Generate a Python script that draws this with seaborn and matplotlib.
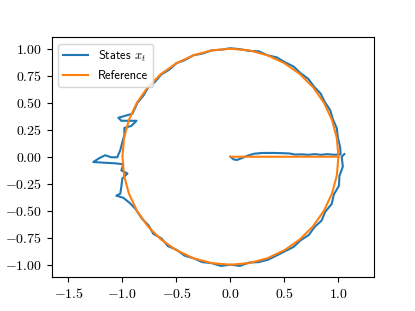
import matplotlib
matplotlib.use("Agg")
import matplotlib.pyplot as plt
from matplotlib.ticker import FuncFormatter
import seaborn as sns
import pandas as pd

# Trajectory of the states
states_x = [0.00, 0.03, 0.06, 0.10, 0.16, 0.22, 0.30, 0.40, 0.48, 0.55, 0.60, 0.66, 0.72, 0.78, 0.84, 0.90, 0.96, 1.02,
            1.016, 0.995, 0.985, 0.949, 0.924, 0.875, 0.835, 0.774, 0.721, 0.649, 0.585, 0.505, 0.429, 0.342, 0.262, 0.173, 0.087, 0.000,
            -0.087, -0.174, -0.256, -0.342, -0.418, -0.500, -0.565, -0.640, -0.696, -0.762, -0.807, -0.862,
            -0.907, -1.038, -1.010, -0.870, -0.917, -0.982, -0.982, -1.001, -1.020, -1.048, -1.104, -1.160, -1.216, -1.270,
            -1.160, -1.067, -0.992, -1.010, -0.954, -1.001, -1.010, -1.020, -1.057, -0.992, -0.935, -0.879,
            -0.819, -0.758, -0.714, -0.637, -0.580, -0.498, -0.427, -0.342, -0.262, -0.174, -0.088, 0.000,
            0.088, 0.173, 0.261, 0.347, 0.427, 0.505, 0.585, 0.649, 0.725, 0.778, 0.844, 0.879, 0.938, 0.958,
            1.005, 1.009, 1.041, 1.030, 1.055]
states_y = [0.000, -0.025, -0.030, -0.015, 0.010, 0.028, 0.035, 0.035, 0.033, 0.030, 0.020, 0.022, 0.018, 0.024, 0.018, 0.024, 0.018, 0.022,
            0.089, 0.175, 0.264, 0.345, 0.431, 0.505, 0.585, 0.649, 0.721, 0.774, 0.835, 0.875, 0.920, 0.940, 0.976, 0.980, 0.996, 1.005,
            0.991, 0.985, 0.956, 0.940, 0.897, 0.866, 0.807, 0.762, 0.696, 0.640, 0.565, 0.498,
            0.398, 0.361, 0.333, 0.333, 0.286, 0.267, 0.201, 0.136, 0.061, -0.005, -0.005, 0.014, -0.014, -0.049,
            -0.056, -0.061, -0.070, -0.127, -0.155, -0.201, -0.276, -0.342, -0.361, -0.380, -0.426, -0.483,
            -0.574, -0.636, -0.714, -0.758, -0.827, -0.862, -0.915, -0.940, -0.976, -0.985, -1.011, -1.000,
            -1.011, -0.980, -0.976, -0.954, -0.915, -0.875, -0.835, -0.774, -0.725, -0.652, -0.591, -0.508, -0.437, -0.349,
            -0.269, -0.178, -0.091, 0.000, 0.025]

# Reference path: from origin to (1, 0), then the unit circle
ref_x = [0.0, 1.0, 0.985, 0.940, 0.866, 0.766, 0.643, 0.500, 0.342, 0.174, 0.0, -0.174, -0.342, -0.500, -0.643, -0.766,
         -0.866, -0.940, -0.985, -1.0, -0.985, -0.940, -0.866, -0.766, -0.643, -0.500, -0.342, -0.174, 0.0,
         0.174, 0.342, 0.500, 0.643, 0.766, 0.866, 0.940, 0.985, 1.0]
ref_y = [0.0, 0.0, 0.174, 0.342, 0.500, 0.643, 0.766, 0.866, 0.940, 0.985, 1.0, 0.985, 0.940, 0.866, 0.766, 0.643,
         0.500, 0.342, 0.174, 0.0, -0.174, -0.342, -0.500, -0.643, -0.766, -0.866, -0.940, -0.985, -1.0,
         -0.985, -0.940, -0.866, -0.766, -0.643, -0.500, -0.342, -0.174, 0.0]

x_ticks = [-1.5, -1.0, -0.5, 0.0, 0.5, 1.0]
y_ticks = [-1.0, -0.75, -0.5, -0.25, 0.0, 0.25, 0.5, 0.75, 1.0]

plt.rcParams['mathtext.fontset'] = 'cm'
plt.rcParams['font.family'] = ['cmss10', 'DejaVu Sans']
plt.rcParams['axes.unicode_minus'] = False

fig, ax = plt.subplots(figsize=(4.15, 3.11), dpi=100)

df_s = pd.DataFrame({"x": states_x, "y": states_y})
df_r = pd.DataFrame({"x": ref_x, "y": ref_y})
sns.lineplot(data=df_s, x="x", y="y", sort=False, estimator=None, color="#1f77b4",
             linewidth=1.5, label=r"States $x_t$", ax=ax)
sns.lineplot(data=df_r, x="x", y="y", sort=False, estimator=None, color="#ff7f0e",
             linewidth=1.5, label="Reference", ax=ax)

ax.axis("equal")
ax.set_xticks(x_ticks)
ax.set_yticks(y_ticks)
ax.xaxis.set_major_formatter(FuncFormatter(lambda v, p: f"${v:.1f}$"))
ax.yaxis.set_major_formatter(FuncFormatter(lambda v, p: f"${v:.2f}$"))
ax.set_xlabel("")
ax.set_ylabel("")
ax.legend(loc="upper left", fontsize=9)

fig.savefig("out.png", dpi=100)
